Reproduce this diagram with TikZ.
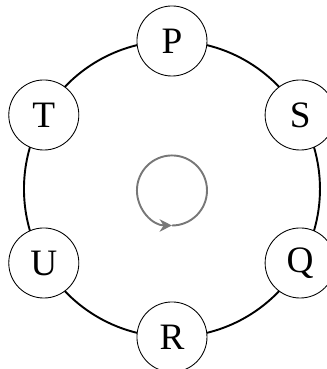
\documentclass[tikz,border=0pt]{standalone}
\usepackage{fontspec}
\setmainfont{Liberation Serif}
\usetikzlibrary{arrows.meta,calc}
\definecolor{ink}{HTML}{000000}
\definecolor{muted}{HTML}{777777}
\newcommand{\ringr}{3}

\begin{document}
\begin{tikzpicture}[
  font=\fontsize{21.5}{26}\selectfont\color{ink},
  ring/.style={draw=ink, line width=1.1pt},
  vtx/.style={circle, draw=ink, line width=0.5pt, fill=white,
              minimum size=1.42cm, inner sep=0pt},
  spin/.style={draw=muted, line width=1.1pt, -{Stealth[length=2.5mm,width=2.5mm]}},
]
\useasboundingbox (-3.486,-3.649) rectangle (3.142,3.831);

% ---- Ring: six sites on one circle ------------------------------------------
\draw[ring] (0,0) circle[radius=\ringr];

\node[vtx] (P) at (90:\ringr)  {P};
\node[vtx] (S) at (30:\ringr)  {S};
\node[vtx] (Q) at (-30:\ringr) {Q};
\node[vtx] (R) at (-90:\ringr) {R};
\node[vtx] (U) at (210:\ringr) {U};
\node[vtx] (T) at (150:\ringr) {T};

% ---- Sense of rotation --------------------------------------------------------
\coordinate (mid) at (0,-0.03);
\draw[spin] ($(mid)+(0,-0.71)$) arc[start angle=-90, end angle=270, radius=0.71];

\end{tikzpicture}
\end{document}
